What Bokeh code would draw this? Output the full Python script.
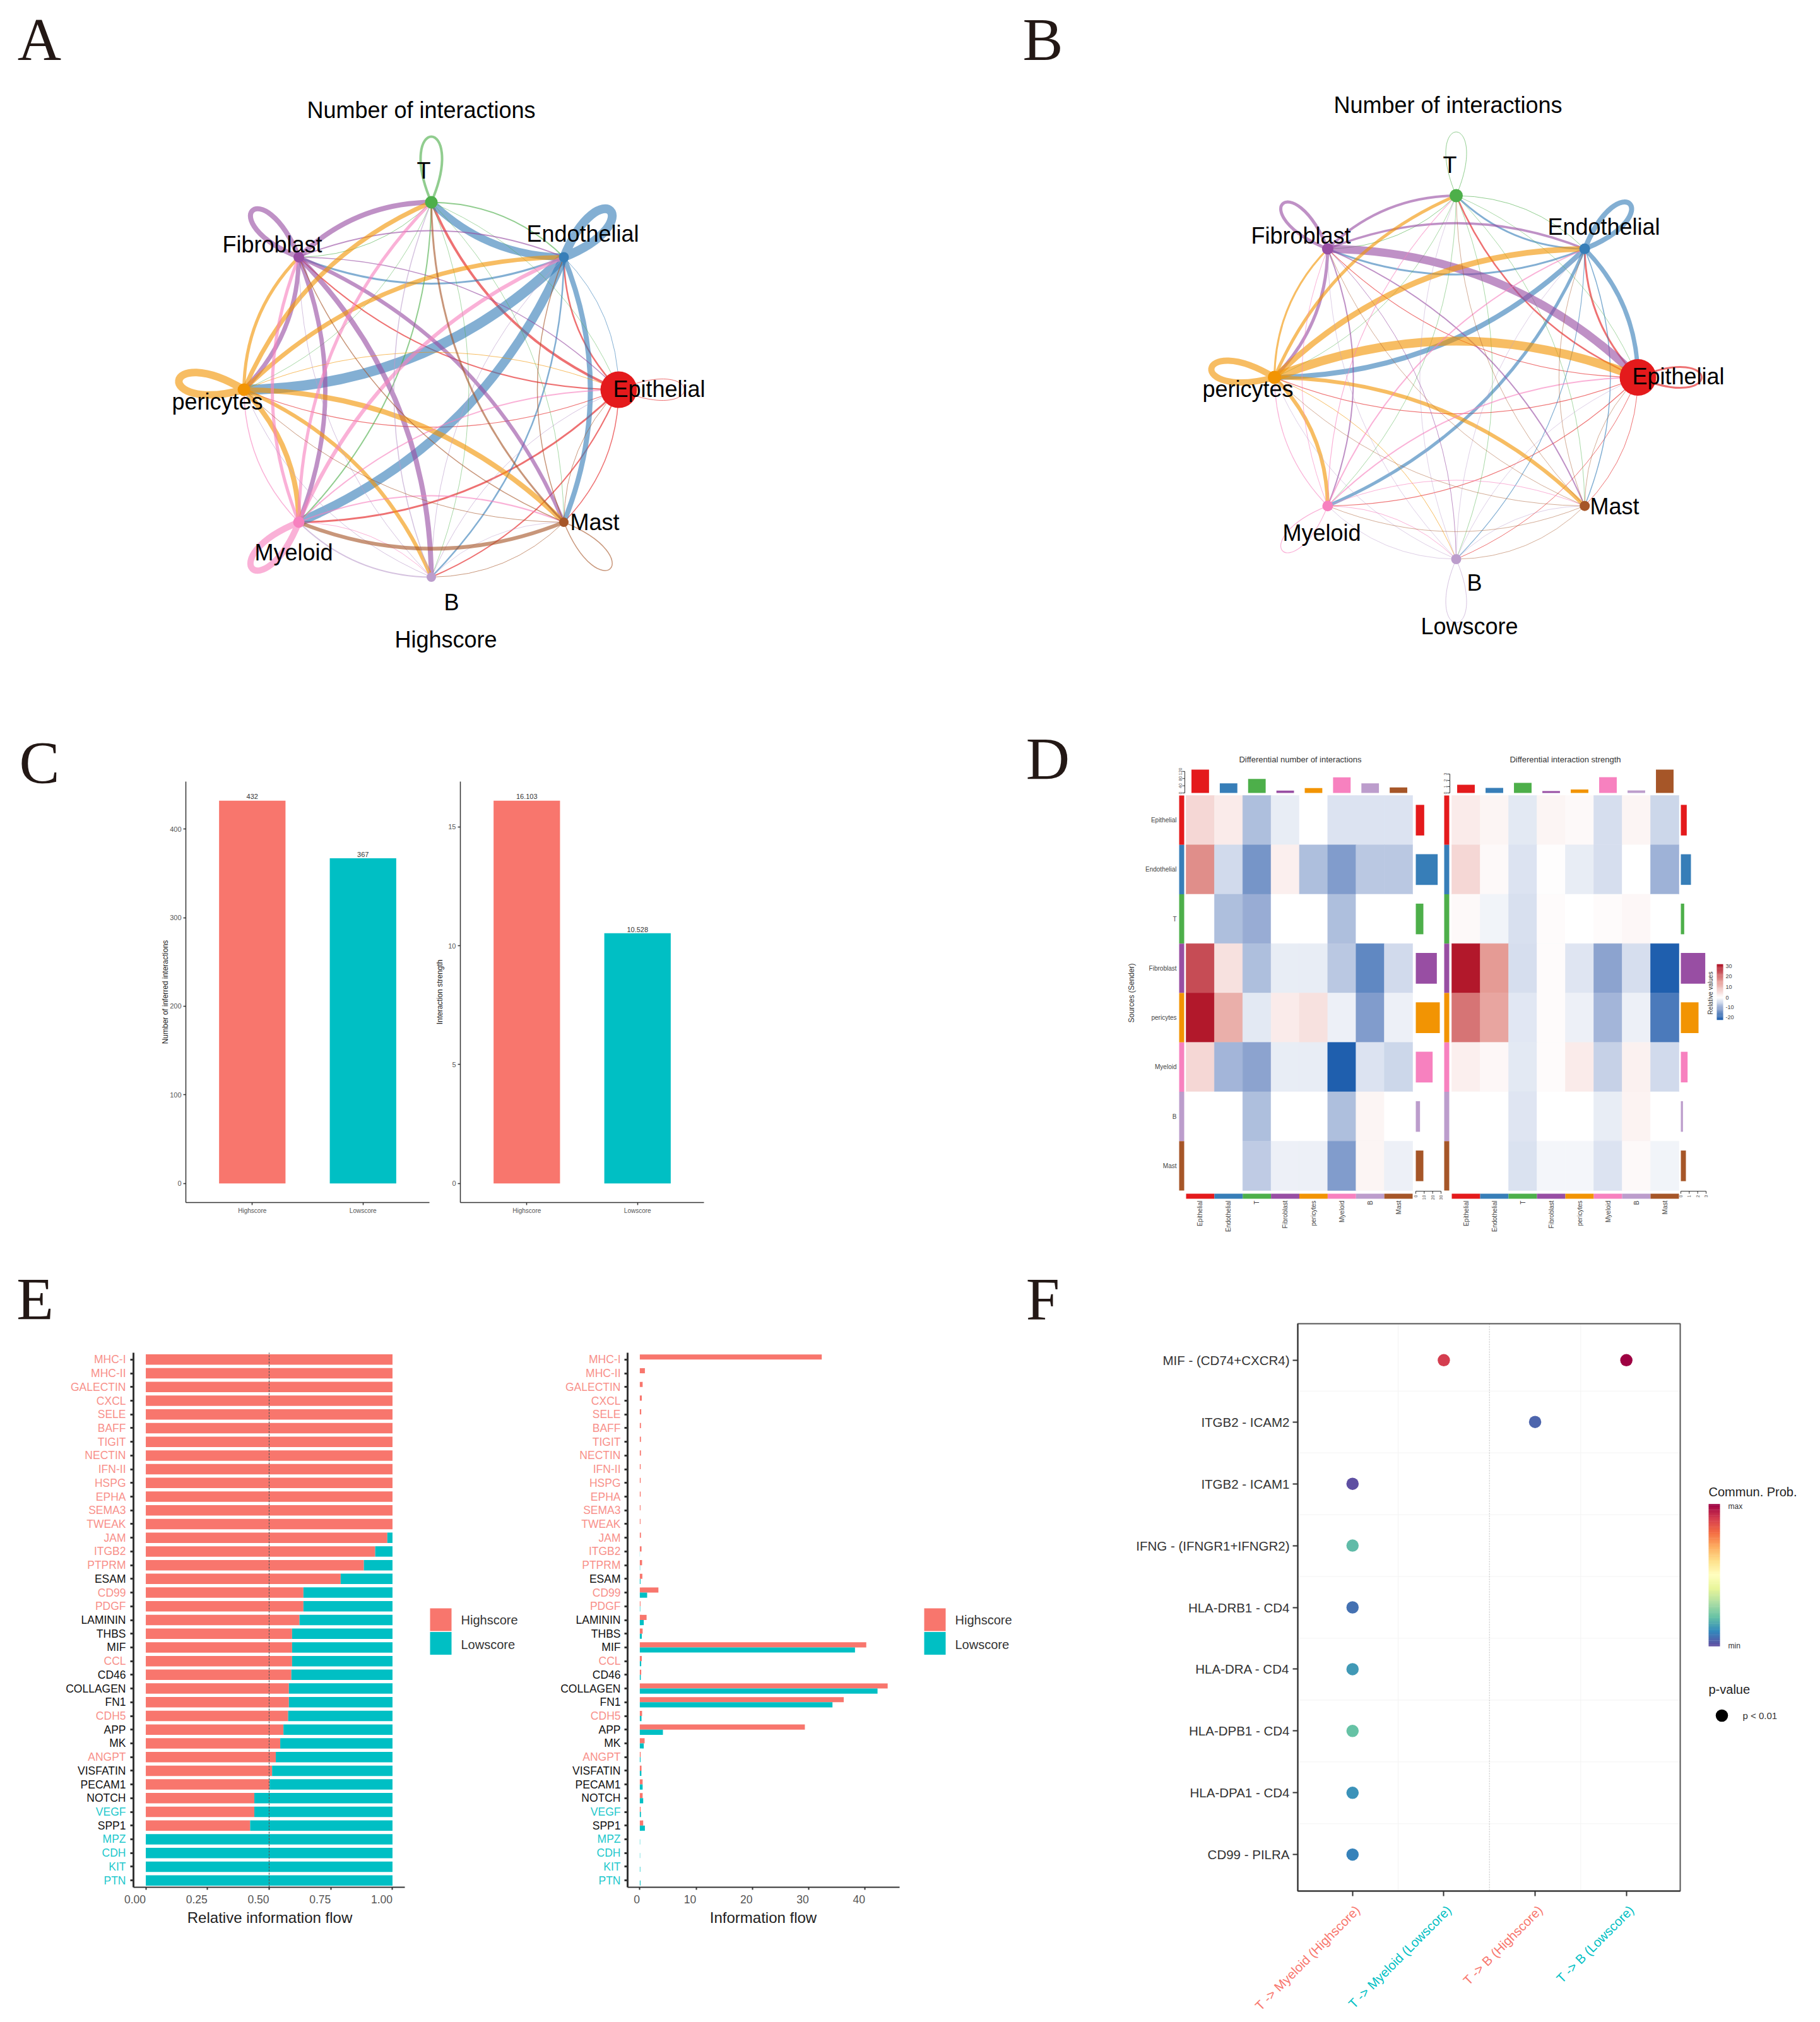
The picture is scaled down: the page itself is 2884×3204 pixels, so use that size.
import numpy as np
from bokeh.plotting import figure
from bokeh.layouts import column, row
from bokeh.embed import file_html
from bokeh.resources import INLINE
from bokeh.models import (ColumnDataSource, FixedTicker, Label, LinearAxis, LinearColorMapper,
                          Range1d, Spacer)
from bokeh.transform import transform
from bokeh.palettes import Spectral11

# ------------------------------------------------------------------ data
cell_types = ["Epithelial", "Endothelial", "T", "Fibroblast", "pericytes", "Myeloid", "B", "Mast"]
cell_colors = ["#E41A1C", "#377EB8", "#4DAF4A", "#984EA3", "#F29403", "#F781BF", "#BC9DCC", "#A65628"]

# communication widths: source rows, target columns
net_high = [
    [1.0, 2.5, 4.0, 2.0, 1.2, 3.0, 2.0, 1.5],
    [1.0, 14., 12., 3.0, 16., 14., 2.5, 8.0],
    [0.8, 2.0, 4.0, 1.0, 0.8, 2.0, 0.8, 0.8],
    [1.5, 2.0, 8.0, 8.0, 7.0, 7.0, 8.0, 6.0],
    [1.0, 7.0, 7.0, 5.0, 12., 8.0, 6.0, 8.0],
    [2.0, 6.0, 5.0, 5.0, 1.5, 10., 1.0, 2.0],
    [1.0, 1.0, 1.5, 1.0, 1.0, 2.0, 0.0, 0.8],
    [1.0, 1.5, 3.0, 1.5, 1.0, 6.0, 1.0, 1.5],
]
net_low = [
    [3.0, 3.0, 2.5, 1.2, 1.2, 1.2, 1.0, 1.0],
    [7.0, 8.0, 3.0, 3.0, 8.0, 5.0, 1.2, 1.5],
    [0.8, 1.0, 1.0, 1.0, 0.8, 0.8, 0.8, 0.8],
    [13., 3.5, 4.0, 5.0, 5.0, 2.0, 1.0, 2.0],
    [14., 9.0, 5.0, 3.0, 10., 6.0, 1.0, 6.0],
    [2.0, 2.0, 1.2, 1.0, 1.2, 1.2, 1.0, 1.0],
    [0.8, 0.8, 0.8, 0.8, 0.8, 0.8, 1.0, 0.8],
    [0.8, 0.8, 0.8, 0.8, 0.8, 0.8, 0.8, 0.0],
]
node_size_high = [58, 16, 20, 17, 20, 18, 15, 15]
node_size_low = [58, 17, 21, 18, 21, 17, 16, 16]

groups = ["Highscore", "Lowscore"]
group_colors = ["#F8766D", "#00BFC4"]
n_interactions = [432, 367]
n_strength = [16.103, 10.528]
n_labels = ["432", "367"]
s_labels = ["16.103", "10.528"]

diff_number = [
    [.20, .10, -.35, -.10, .00, -.15, -.15, -.15],
    [.55, -.20, -.60, .08, -.35, -.55, -.30, -.30],
    [.00, -.35, -.45, .00, .00, -.35, .00, .00],
    [.80, .15, -.35, -.10, -.10, -.30, -.70, -.20],
    [1.0, .40, -.12, .10, .15, -.08, -.55, -.08],
    [.20, -.40, -.50, -.10, -.10, -1.0, -.15, -.22],
    [.00, .00, -.35, .00, .00, -.35, .05, .00],
    [.00, .00, -.28, -.08, -.08, -.55, .05, -.08],
]
diff_strength = [
    [.10, .05, -.12, .05, .03, -.18, .05, -.22],
    [.20, .03, -.15, .01, -.10, -.18, .00, -.42],
    [.03, -.06, -.17, .02, .00, .02, .04, .00],
    [1.0, .50, -.18, .02, -.14, -.50, -.18, -1.0],
    [.65, .45, -.13, .02, -.08, -.40, -.08, -.80],
    [.08, .04, -.12, .02, .10, -.25, .07, -.20],
    [.00, .00, -.14, .00, .00, -.10, .06, .00],
    [.00, .00, -.16, -.05, -.05, -.15, .03, -.06],
]
number_top = [130, 54, 78, 13, 27, 87, 54, 31]
number_side = [10, 26, 9, 25, 28.5, 20, 5, 9]
strength_top = [1.3, 0.8, 1.6, 0.3, 0.56, 2.5, 0.4, 3.7]
strength_side = [0.7, 1.2, 0.4, 2.9, 2.1, 0.8, 0.25, 0.6]
heat_key_ticks = ["30", "20", "10", "0", "-10", "-20"]

pathways = ["MHC-I", "MHC-II", "GALECTIN", "CXCL", "SELE", "BAFF", "TIGIT", "NECTIN", "IFN-II", "HSPG",
            "EPHA", "SEMA3", "TWEAK", "JAM", "ITGB2", "PTPRM", "ESAM", "CD99", "PDGF", "LAMININ", "THBS",
            "MIF", "CCL", "CD46", "COLLAGEN", "FN1", "CDH5", "APP", "MK", "ANGPT", "VISFATIN", "PECAM1",
            "NOTCH", "VEGF", "SPP1", "MPZ", "CDH", "KIT", "PTN"]
pathway_group = ["h"] * 16 + ["n", "h", "h", "n", "n", "n", "h", "n", "n", "n", "h", "n", "n", "h", "n", "n",
                              "n", "l", "n", "l", "l", "l", "l"]
relative_high = [1.0] * 13 + [.979, .93, .884, .79, .639, .639, .623, .593, .593, .593, .59, .58, .58, .577,
                              .558, .545, .527, .512, .502, .44, .44, .423, 0, 0, 0, 0]
flow_high = [32.3, .9, .5, .35, .25, .2, .2, .2, .15, .15, .15, .12, .12, .2, .3, .4, .45, 3.3, .12, 1.2, .5,
             40.2, .35, .25, 44.0, 36.2, .4, 29.3, .85, .15, .3, .5, .5, .15, .6, 0, 0, 0, 0]
flow_low = [0, 0, 0, 0, 0, 0, 0, 0, 0, 0, 0, 0, 0, .004, .02, .05, .12, 1.3, .07, .7, .35,
            38.2, .25, .17, 42.2, 34.2, .3, 4.1, .7, .13, .28, .5, .6, .2, .9, .05, .05, .08, .12]

lr_pairs = ["MIF - (CD74+CXCR4)", "ITGB2 - ICAM2", "ITGB2 - ICAM1", "IFNG - (IFNGR1+IFNGR2)", "HLA-DRB1 - CD4",
            "HLA-DRA - CD4", "HLA-DPB1 - CD4", "HLA-DPA1 - CD4", "CD99 - PILRA"]
lr_groups = ["T -> Myeloid (Highscore)", "T -> Myeloid (Lowscore)", "T -> B (Highscore)", "T -> B (Lowscore)"]
lr_group_colors = ["#F8766D", "#00BFC4", "#F8766D", "#00BFC4"]
dot_pair = [0, 0, 1, 2, 3, 4, 5, 6, 7, 8]
dot_group = [1, 3, 2, 0, 0, 0, 0, 0, 0, 0]
dot_prob = [.90, 1.0, .04, .0, .19, .06, .13, .20, .12, .09]

SANS = "Liberation Sans"
SERIF = "Liberation Serif"
INK = "#333333"
LETTER = "#231815"
ROW1, ROW2, ROW3 = (0, 1130), (1130, 1990), (1990, 3196)
PAGE_NUDGE = 2


# ------------------------------------------------------------------ helpers
class Panel:
    """A figure covering the page box (rx0, rx1, ry0, ry1). The frame fills the figure; the plotting area
    (fx0, fx1, fy0, fy1) carries xr = values at (left, right), yr = values at (bottom, top)."""
    def __init__(self, box, frame, xr, yr):
        rx0, rx1, ry0, ry1 = box
        fx0, fx1, fy0, fy1 = frame
        self.fx0, self.fy0 = fx0, fy0
        self.xr, self.yr = xr, yr
        self.kx = (xr[1] - xr[0]) / (fx1 - fx0)
        self.ky = (yr[0] - yr[1]) / (fy1 - fy0)
        self.p = figure(width=rx1 - rx0, height=ry1 - ry0,
                        x_range=Range1d(float(self.X(rx0 + PAGE_NUDGE)), float(self.X(rx1 + PAGE_NUDGE))),
                        y_range=Range1d(float(self.Y(ry1 + PAGE_NUDGE)), float(self.Y(ry0 + PAGE_NUDGE))),
                        min_border=0, x_axis_type=None, y_axis_type=None, tools="", toolbar_location=None,
                        output_backend="svg", outline_line_color=None, background_fill_color="white",
                        border_fill_color="white")
        self.p.grid.visible = False

    def X(self, r):
        return self.xr[0] + (np.asarray(r, dtype=float) - self.fx0) * self.kx

    def Y(self, r):
        return self.yr[1] + (np.asarray(r, dtype=float) - self.fy0) * self.ky

    def text(self, xs, ys, texts, size, color="#000000", align="center", baseline="middle", angle=0, font=SANS):
        colors = color if isinstance(color, list) else [color] * len(texts)
        for x, y, t, c in zip(xs, ys, texts, colors):
            self.p.add_layout(Label(x=float(x), y=float(y), text=t, text_color=c, text_font=font,
                                    text_font_size=f"{size}px", text_align=align, text_baseline=baseline,
                                    angle=angle, angle_units="deg"))

    def page_text(self, rxs, rys, texts, size, **kw):
        self.text(self.X(rxs).tolist(), self.Y(rys).tolist(), texts, size, **kw)

    def left_axis(self, **kw):
        ax = LinearAxis(fixed_location=self.xr[0], bounds=(min(self.yr), max(self.yr)), **kw)
        self.p.add_layout(ax, "left")
        return ax

    def bottom_axis(self, **kw):
        ax = LinearAxis(fixed_location=self.yr[0], bounds=(min(self.xr), max(self.xr)), **kw)
        self.p.add_layout(ax, "below")
        return ax


def interp_palette(stops, n=256):
    rgb = np.array([[int(c[i:i + 2], 16) for i in (1, 3, 5)] for c in stops], dtype=float)
    pos = np.linspace(0, 1, len(stops))
    t = np.linspace(0, 1, n)
    out = np.column_stack([np.interp(t, pos, rgb[:, k]) for k in range(3)]).round().astype(int)
    return ["#%02x%02x%02x" % tuple(c) for c in out]


def style_axis(ax, label_size=11, label_color="#555555", line_width=1.5, tick_out=4):
    ax.axis_line_color = INK
    ax.axis_line_width = line_width
    ax.major_tick_line_color = INK
    ax.major_tick_line_width = line_width
    ax.major_tick_out = tick_out
    ax.major_tick_in = 0
    ax.minor_tick_line_color = None
    ax.major_label_text_font = SANS
    ax.major_label_text_font_size = f"{label_size}px"
    ax.major_label_text_color = label_color
    ax.axis_label_text_font = SANS
    ax.axis_label_text_font_style = "normal"
    return ax


def hide_labels(ax):
    ax.major_label_text_color = None
    ax.major_label_text_font_size = "1px"


# ------------------------------------------------------------------ panels A, B
def circle_panel(box, cx, cy, radius, weights, sizes, spots, letter, letter_xy):
    xr = ((box[0] - cx) / radius, (box[1] - cx) / radius)
    yr = ((cy - box[3]) / radius, (cy - box[2]) / radius)
    pan = Panel(box, box, xr, yr)
    p = pan.p
    m = np.array(weights, dtype=float)
    n = len(cell_types)
    angle = np.deg2rad(np.arange(n) * 45.0)
    nx, ny = np.cos(angle), np.sin(angle)
    e = dict(x0=[], y0=[], x1=[], y1=[], cx=[], cy=[], w=[], c=[])
    for i in range(n):
        for j in range(n):
            if i == j or m[i, j] <= 0:
                continue
            dx, dy = nx[j] - nx[i], ny[j] - ny[i]
            e["x0"].append(nx[i]); e["y0"].append(ny[i]); e["x1"].append(nx[j]); e["y1"].append(ny[j])
            e["cx"].append((nx[i] + nx[j]) / 2 - 0.2 * dy)
            e["cy"].append((ny[i] + ny[j]) / 2 + 0.2 * dx)
            e["w"].append(m[i, j]); e["c"].append(cell_colors[i])
    p.quadratic("x0", "y0", "x1", "y1", "cx", "cy", source=ColumnDataSource(e), line_width="w",
                line_color="c", line_alpha=0.62)
    reach, spread = 0.35 * 1.45, np.deg2rad(23)
    loop = dict(x=[], y=[], c0x=[], c0y=[], c1x=[], c1y=[], w=[], c=[])
    for i in range(n):
        if m[i, i] <= 0:
            continue
        a = angle[i] - (np.deg2rad(8) if i == 4 else 0)
        loop["x"].append(nx[i]); loop["y"].append(ny[i])
        loop["c0x"].append(nx[i] + reach * np.cos(a + spread)); loop["c0y"].append(ny[i] + reach * np.sin(a + spread))
        loop["c1x"].append(nx[i] + reach * np.cos(a - spread)); loop["c1y"].append(ny[i] + reach * np.sin(a - spread))
        loop["w"].append(m[i, i]); loop["c"].append(cell_colors[i])
    p.bezier("x", "y", "x", "y", "c0x", "c0y", "c1x", "c1y", source=ColumnDataSource(loop), line_width="w",
             line_color="c", line_alpha=0.62)
    p.scatter(nx.tolist(), ny.tolist(), size=sizes, fill_color=cell_colors, line_color=None)
    xs, ys, ts = zip(*spots)
    pan.page_text(xs, ys, ts, 36)
    pan.page_text([letter_xy[0]], [letter_xy[1]], [letter], 96, font=SERIF, color=LETTER)
    return p


fig_a = circle_panel((0, 1448) + ROW1, 685, 619, 297, net_high, node_size_high,
                     [(673, 272, "T"), (433, 389, "Fibroblast"), (925, 372, "Endothelial"), (1046, 618, "Epithelial"),
                      (346, 638, "pericytes"), (467, 877, "Myeloid"), (944, 829, "Mast"), (717, 956, "B"),
                      (669, 176, "Number of interactions"), (708, 1015, "Highscore")], "A", (64, 64))
fig_b = circle_panel((1448, 2868) + ROW1, 2309, 599.5, 288, net_low, node_size_low,
                     [(2299, 263, "T"), (2063, 375, "Fibroblast"), (2543, 361, "Endothelial"), (2661, 598, "Epithelial"),
                      (1979, 618, "pericytes"), (2096, 846, "Myeloid"), (2560, 804, "Mast"), (2338, 925, "B"),
                      (2296, 168, "Number of interactions"), (2330, 994, "Lowscore")], "B", (1654, 64))


# ------------------------------------------------------------------ panel C
def bar_panel(box, frame, yr, ticks, values, labels, title):
    pan = Panel(box, frame, (0.4, 2.6), yr)
    p = pan.p
    p.vbar(x=[1, 2], top=values, bottom=0, width=0.6, fill_color=group_colors, line_color=None)
    ax = style_axis(pan.left_axis(ticker=FixedTicker(ticks=ticks)))
    ax.major_label_standoff = 3
    pan.page_text([frame[0] - 33], [(frame[2] + frame[3]) / 2], [title], 12, color="#222222", angle=90)
    bx = style_axis(pan.bottom_axis(ticker=FixedTicker(ticks=[1, 2]), major_label_overrides={1: groups[0], 2: groups[1]}),
                    label_size=10)
    bx.major_label_standoff = 3
    pan.text([1, 2], [v * 1.004 for v in values], labels, 11, color="#333333", baseline="bottom")
    return pan


pan_c1 = bar_panel((0, 690) + ROW2, (296, 682, 1240, 1907), (-21.6, 453.6), [0, 100, 200, 300, 400],
                   n_interactions, n_labels, "Number of inferred interactions")
pan_c1.page_text([64], [1210], ["C"], 96, font=SERIF, color=LETTER)
pan_c2 = bar_panel((690, 1150) + ROW2, (731, 1117, 1240, 1907), (-0.805, 16.908), [0, 5, 10, 15],
                   n_strength, s_labels, "Interaction strength")

# ------------------------------------------------------------------ panel D
heat_palette = interp_palette(["#1F5FAE", "#8CA3CF", "#FFFFFF", "#E59B95", "#B2182B"], 201)
heat_mapper = LinearColorMapper(palette=heat_palette, low=-1, high=1)


def heat_panel(box, hx0, hx1, matrix, top_vals, side_vals, top_ticks, side_ticks, top_px_per_unit, side_px_per_unit,
               side_x0, strip_x0, axis_x, title, title_x):
    hy0, hy1 = 1262, 1888
    n = len(cell_types)
    cw, ch = (hx1 - hx0) / n, (hy1 - hy0) / n
    xr = ((box[0] - hx0) / cw, (box[1] - hx0) / cw)
    yr = ((box[3] - hy0) / ch, (box[2] - hy0) / ch)
    pan = Panel(box, box, xr, yr)
    p = pan.p
    xs, ys, vs = [], [], []
    for r in range(n):
        for c in range(n):
            xs.append(c + .5); ys.append(r + .5); vs.append(matrix[r][c])
    col = transform("v", heat_mapper)
    p.rect("x", "y", 1, 1, source=ColumnDataSource(dict(x=xs, y=ys, v=vs)), fill_color=col, line_color=col,
           line_width=0.6)
    centers = [i + .5 for i in range(n)]
    # row annotation and column annotation strips
    sw = 8 * pan.kx
    p.rect([float(pan.X(strip_x0 + 4))] * n, centers, sw, 1, fill_color=cell_colors, line_color=None)
    p.rect(centers, [float(pan.Y(1897))] * n, 1, 8 * abs(pan.ky), fill_color=cell_colors, line_color=None)
    # top barplot
    base = 1258
    top_y = lambda v: pan.Y(base - np.asarray(v, dtype=float) * top_px_per_unit).tolist()
    p.vbar(x=centers, bottom=float(pan.Y(base)), top=top_y(top_vals), width=.62, fill_color=cell_colors, line_color=None)
    tx = float(pan.X(axis_x)); tx2 = float(pan.X(axis_x - 4))
    p.segment([tx], [top_y(0)], [tx], [top_y(top_ticks[-1])], line_color=INK, line_width=1)
    p.segment([tx2] * len(top_ticks), top_y(top_ticks), [tx] * len(top_ticks), top_y(top_ticks), line_color=INK, line_width=1)
    # side barplot
    side_x = lambda v: pan.X(side_x0 + np.asarray(v, dtype=float) * side_px_per_unit).tolist()
    p.hbar(y=centers, left=float(pan.X(side_x0)), right=side_x(side_vals), height=.62, fill_color=cell_colors, line_color=None)
    ay = float(pan.Y(1889)); ay2 = float(pan.Y(1893))
    p.segment([side_x(0)], [ay], [side_x(side_ticks[-1])], [ay], line_color=INK, line_width=1)
    p.segment(side_x(side_ticks), [ay] * len(side_ticks), side_x(side_ticks), [ay2] * len(side_ticks), line_color=INK, line_width=1)
    k = side_px_per_unit
    pan.page_text([side_x0 + t * k for t in side_ticks], [1895] * len(side_ticks), [str(t) for t in side_ticks], 7,
                  color="#555555", angle=90, align="right")
    pan.page_text([axis_x - 7] * len(top_ticks), [base - t * top_px_per_unit for t in top_ticks],
                  [str(t) for t in top_ticks], 7, color="#555555", angle=90)
    # labels
    pan.text(centers, [float(pan.Y(1904))] * n, cell_types, 10, color="#444444", angle=90, align="right")
    pan.page_text([title_x], [1205], [title], 13, color="#333333")
    return pan


pan_d1 = heat_panel((1600, 2286) + ROW2, 1881, 2240, diff_number, number_top, number_side,
                    [0, 40, 80, 120], [0, 10, 20, 30], 37 / 130, 40 / 30, 2245, 1870, 1879,
                    "Differential number of interactions", 2062)
pan_d1.text([float(pan_d1.X(1866))] * 8, [i + .5 for i in range(8)], cell_types, 10, color="#444444", align="right")
pan_d1.page_text([1794], [1575], ["Sources (Sender)"], 12, color="#333333", angle=90)
pan_d1.page_text([1662], [1204], ["D"], 96, font=SERIF, color=LETTER)
pan_d2 = heat_panel((2286, 2868) + ROW2, 2302, 2662, diff_strength, strength_top, strength_side,
                    [0, 1, 2, 3], [0, 1, 2, 3], 10.0, 40 / 3, 2665, 2290, 2299,
                    "Differential interaction strength", 2482)
# colour key of the heat maps
key_top, key_bottom, key_white = 1530, 1617, 0.4
key_t = np.linspace(0, 1, 80)
key_v = np.where(key_t < key_white, (key_t - key_white) / key_white, (key_t - key_white) / (1 - key_white))
key_h = (key_bottom - key_top) / len(key_t)
pan_d2.p.rect([float(pan_d2.X(2727))] * len(key_t), pan_d2.Y(key_bottom - key_t * (key_bottom - key_top)).tolist(),
              10 * pan_d2.kx, (key_h + .4) * abs(pan_d2.ky),
              fill_color=[heat_palette[int(round((v + 1) * 100))] for v in key_v], line_color=None)
pan_d2.page_text([2736] * 6, [1532, 1548, 1565, 1582, 1597, 1613], heat_key_ticks, 9, color="#444444", align="left")
pan_d2.page_text([2712], [1575], ["Relative values"], 10, color="#333333", angle=90)

# ------------------------------------------------------------------ panel E
rows = list(range(1, len(pathways) + 1))
label_color = {"h": "#F8908A", "n": "#111111", "l": "#22C8CC"}
path_colors = [label_color[g] for g in pathway_group]
yrange = (39.5, 0.5)


def legend_block(pan, x0):
    s = pan.p
    kx, ky = pan.kx, abs(pan.ky)
    s.rect([float(pan.X(x0 + 17))] * 2, pan.Y([2568, 2605.5]).tolist(), 34 * kx, 36 * ky, fill_color=group_colors,
           line_color=None)
    pan.page_text([x0 + 49] * 2, [2568, 2607], groups, 20, color="#333333", align="left")


def path_axes(pan, ticks, labels, xtitle, title_x, label_right):
    ly = style_axis(pan.left_axis(ticker=FixedTicker(ticks=rows)), line_width=3, tick_out=5)
    hide_labels(ly)
    bx = style_axis(pan.bottom_axis(ticker=FixedTicker(ticks=ticks)), line_width=2, tick_out=4)
    hide_labels(bx)
    pan.text(pan.X([label_right] * len(rows)).tolist(), rows, pathways, 17.5, color=path_colors, align="right")
    pan.text(ticks, [float(pan.Y(3011))] * len(ticks), labels, 17.5, color="#555555", align="right")
    pan.page_text([title_x], [3040], [xtitle], 24, color="#222222")


pan_e1 = Panel((0, 860) + ROW3, (213, 643, 2145, 2992), (-0.05, 1.05), yrange)
pan_e1.p.hbar(y=rows, left=0, right=relative_high, height=.76, fill_color=group_colors[0], line_color=None)
pan_e1.p.hbar(y=rows, left=relative_high, right=1, height=.76, fill_color=group_colors[1], line_color=None)
pan_e1.p.segment([0.5], [yrange[0]], [0.5], [yrange[1]], line_color="#555555", line_width=1.2, line_dash="3 2")
path_axes(pan_e1, [0, .25, .5, .75, 1], ["0.00", "0.25", "0.50", "0.75", "1.00"], "Relative information flow", 429, 201)
legend_block(pan_e1, 683)
pan_e1.page_text([57], [2060], ["E"], 96, font=SERIF, color=LETTER)

pan_e2 = Panel((860, 1610) + ROW3, (996, 1426.5, 2145, 2992), (-2.17, 46.06), yrange)
pan_e2.p.hbar(y=[r - .1875 for r in rows], left=0, right=flow_high, height=.375, fill_color=group_colors[0], line_color=None)
pan_e2.p.hbar(y=[r + .1875 for r in rows], left=0, right=flow_low, height=.375, fill_color=group_colors[1], line_color=None)
path_axes(pan_e2, [0, 10, 20, 30, 40], ["0", "10", "20", "30", "40"], "Information flow", 1211, 985)
legend_block(pan_e2, 1466)

# ------------------------------------------------------------------ panel F
spectral = interp_palette(list(Spectral11), 256)
prob_mapper = LinearColorMapper(palette=spectral, low=0, high=1)
f_xr, f_yr = (-0.6, 3.59), (8.59, -0.59)
pan_f = Panel((1610, 2670) + ROW3, (2058, 2664, 2099, 2998), f_xr, f_yr)
pf = pan_f.p
half_rows = [i + .5 for i in range(len(lr_pairs) - 1)]
pf.segment([f_xr[0]] * len(half_rows), half_rows, [f_xr[1]] * len(half_rows), half_rows, line_color="#F3F3F3", line_width=1)
pf.segment([.5, 2.5], [f_yr[1]] * 2, [.5, 2.5], [f_yr[0]] * 2, line_color="#F3F3F3", line_width=1)
pf.segment([1.5], [f_yr[1]], [1.5], [f_yr[0]], line_color="#C8C8C8", line_width=1.2, line_dash="2 2")
pf.scatter("x", "y", source=ColumnDataSource(dict(x=dot_group, y=dot_pair, v=dot_prob)), size=19.5,
           fill_color=transform("v", prob_mapper), line_color=None)
pf.rect([sum(f_xr) / 2], [sum(f_yr) / 2], f_xr[1] - f_xr[0], f_yr[0] - f_yr[1], fill_color=None, line_color="#555555", line_width=2)
fy = style_axis(pan_f.left_axis(ticker=FixedTicker(ticks=list(range(len(lr_pairs)))),
                                major_label_overrides={i: t for i, t in enumerate(lr_pairs)}),
                label_size=20.5, label_color="#333333", line_width=2, tick_out=8)
fy.major_label_standoff = 5
fx = style_axis(pan_f.bottom_axis(ticker=FixedTicker(ticks=list(range(len(lr_groups))))), line_width=2, tick_out=8)
hide_labels(fx)
pan_f.text(list(range(4)), [float(pan_f.Y(3016))] * 4, lr_groups, 20.5, color=lr_group_colors, align="right", angle=45,
           baseline="top")
pan_f.page_text([1654], [2060], ["F"], 96, font=SERIF, color=LETTER)

fl_box = (2670, 2868) + ROW3
pan_fl = Panel(fl_box, fl_box, (2670, 2868), (ROW3[1], ROW3[0]))
pl = pan_fl.p
key_p = np.linspace(0, 1, 100)
kh = (2609 - 2386) / len(key_p)
pl.rect([2718] * len(key_p), (2609 - key_p * (2609 - 2386)).tolist(), 18, kh + .5,
        fill_color=[spectral[int(v * 255)] for v in key_p], line_color=None)
pan_fl.text([2709], [2365], ["Commun. Prob."], 20, color="#222222", align="left")
pan_fl.text([2740, 2740], [2388, 2609], ["max", "min"], 12, color="#333333", align="left")
pan_fl.text([2709], [2678], ["p-value"], 20, color="#222222", align="left")
pl.scatter([2730], [2720], size=19.5, fill_color="#000000", line_color=None)
pan_fl.text([2763], [2720], ["p < 0.01"], 15, color="#333333", align="left")

# ------------------------------------------------------------------ page
page = column(
    row(fig_a, fig_b),
    row(pan_c1.p, pan_c2.p, Spacer(width=450, height=10), pan_d1.p, pan_d2.p),
    row(pan_e1.p, pan_e2.p, pan_f.p, pan_fl.p),
)
open("out.html", "w").write(file_html(page, INLINE))
